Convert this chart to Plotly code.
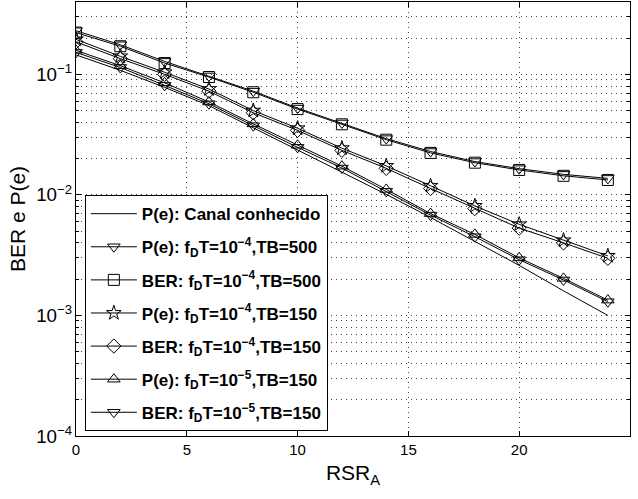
import plotly.graph_objects as go

x = [0, 2, 4, 6, 8, 10, 12, 14, 16, 18, 20, 22, 24]

pe_known = [0.145, 0.108, 0.078, 0.055, 0.036, 0.0235, 0.0155, 0.0101, 0.0065, 0.0041, 0.0026, 0.0016, 0.0010]

pe_1e4_500 = [0.230, 0.176, 0.128, 0.097, 0.0725, 0.0525, 0.0395, 0.0293, 0.0229, 0.0189, 0.0165, 0.0148, 0.0137]
ber_1e4_500 = [0.222, 0.171, 0.124, 0.095, 0.0710, 0.0515, 0.0385, 0.0287, 0.0223, 0.0185, 0.0161, 0.0144, 0.0133]

pe_1e4_150 = [0.195, 0.141, 0.104, 0.0755, 0.0500, 0.0357, 0.0244, 0.0174, 0.0119, 0.0081, 0.0057, 0.0042, 0.00312]
ber_1e4_150 = [0.186, 0.135, 0.100, 0.0725, 0.0480, 0.0343, 0.0234, 0.0166, 0.0113, 0.0077, 0.0053, 0.0040, 0.00298]

pe_1e5_150 = [0.158, 0.118, 0.085, 0.0590, 0.0388, 0.0258, 0.0173, 0.0111, 0.0070, 0.0047, 0.0030, 0.00203, 0.00134]
ber_1e5_150 = [0.152, 0.114, 0.081, 0.0570, 0.0375, 0.0248, 0.0167, 0.0107, 0.0068, 0.0045, 0.0029, 0.00197, 0.00130]

names = [
    "P(e): Canal conhecido",
    "P(e): f<sub>D</sub>T=10<sup>−4</sup>,TB=500",
    "BER: f<sub>D</sub>T=10<sup>−4</sup>,TB=500",
    "P(e): f<sub>D</sub>T=10<sup>−4</sup>,TB=150",
    "BER: f<sub>D</sub>T=10<sup>−4</sup>,TB=150",
    "P(e): f<sub>D</sub>T=10<sup>−5</sup>,TB=150",
    "BER: f<sub>D</sub>T=10<sup>−5</sup>,TB=150",
]
series = [pe_known, pe_1e4_500, ber_1e4_500, pe_1e4_150, ber_1e4_150, pe_1e5_150, ber_1e5_150]
symbols = [None, "triangle-down-open", "square-open", "star-open", "diamond-open",
           "triangle-up-open", "triangle-down-open"]

fig = go.Figure()
for i, (nm, ys, sym) in enumerate(zip(names, series, symbols)):
    if sym is None:
        fig.add_trace(go.Scatter(x=x, y=ys, name=nm, mode="lines", legendgroup=f"g{i}",
                                 line=dict(color="black", width=1)))
    else:
        fig.add_trace(go.Scatter(x=x, y=ys, name=nm, mode="lines+markers", legendgroup=f"g{i}",
                                 line=dict(color="black", width=1),
                                 marker=dict(symbol=sym, size=11, color="black",
                                             line=dict(color="black", width=1))))

font = "Liberation Sans, Arial, Helvetica, sans-serif"
grid = dict(showgrid=True, gridcolor="#444", griddash="1px,4px", gridwidth=1)
fig.update_layout(
    width=638, height=499,
    margin=dict(l=76, r=8, t=2, b=63),
    paper_bgcolor="white", plot_bgcolor="white",
    font=dict(family=font, color="black", size=15),
    showlegend=True,
    legend=dict(x=0.016, y=0.555, xanchor="left", yanchor="top",
                bgcolor="white", bordercolor="black", borderwidth=1,
                font=dict(size=17, family=font, weight="bold"),
                traceorder="grouped", tracegroupgap=8, itemwidth=46),
    xaxis=dict(range=[0, 25], dtick=5, tick0=0, showline=True, mirror="ticks",
               linecolor="black", linewidth=1, ticks="inside", ticklen=5,
               tickcolor="black", zeroline=False, **grid,
               tickfont=dict(size=15),
               title=dict(text="RSR<sub>A</sub>", font=dict(size=21), standoff=8)),
    yaxis=dict(type="log", range=[-4, -0.4], dtick=1, showline=True, mirror="ticks",
               linecolor="black", linewidth=1, ticks="inside", ticklen=5,
               tickcolor="black", zeroline=False, exponentformat="power", **grid,
               tickfont=dict(size=15),
               minor=dict(showgrid=True, gridcolor="#444", griddash="1px,4px",
                          gridwidth=1, ticks="inside", ticklen=3, tickcolor="black"),
               title=dict(text="BER e P(e)", font=dict(size=21), standoff=4)),
)

fig.write_html("out.html")
